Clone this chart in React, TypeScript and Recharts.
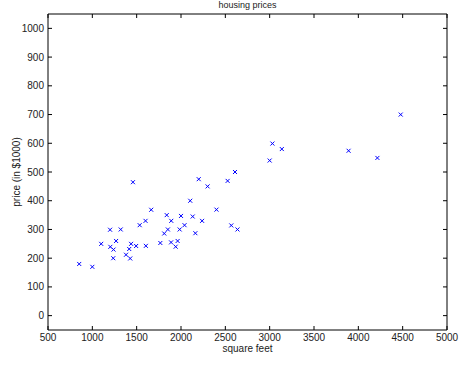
import React from 'react';
import { ScatterChart, Scatter, XAxis, YAxis, ReferenceArea } from 'recharts';

// house sizes (sq ft) and prices ($1000)
const sqft = [
  2104, 1600, 2400, 1416, 3000, 1985, 1534, 1427, 1380, 1494, 1940, 2000, 1890, 4478, 1268, 2300,
  1320, 1236, 2609, 3031, 1767, 1888, 1604, 1962, 3890, 1100, 1458, 2526, 2200, 2637, 1839, 1000,
  2040, 3137, 1811, 1437, 1239, 2132, 4215, 2162, 1664, 2238, 2567, 1200, 852, 1852, 1203,
];
const price = [
  399.9, 329.9, 369.0, 232.0, 539.9, 299.9, 314.9, 199.0, 212.0, 242.5, 240.0, 347.0, 330.0, 699.9, 259.9, 449.9,
  299.9, 199.9, 500.0, 599.0, 252.9, 255.0, 242.9, 259.9, 573.9, 249.9, 464.5, 469.0, 475.0, 299.9, 349.9, 169.9,
  314.9, 579.9, 285.9, 249.9, 229.9, 345.0, 549.0, 287.0, 368.5, 329.9, 314.0, 299.0, 179.9, 299.9, 239.5,
];
const xTicks = [500, 1000, 1500, 2000, 2500, 3000, 3500, 4000, 4500, 5000];
const yTicks = [0, 100, 200, 300, 400, 500, 600, 700, 800, 900, 1000];

const data = sqft.map((s, i) => ({ sqft: s, price: price[i] }));

const W = 468;
const H = 370;
const M = { top: 14, right: 21, bottom: 0, left: 0 };
const PLOT_TOP = 14;
const PLOT_BOTTOM = 330;
const PLOT_LEFT = 48;
const PLOT_RIGHT = 447;
const FONT = '"Liberation Sans", Arial, sans-serif';

const XTick = (props: any) => {
  const { x, payload } = props;
  return (
    <g>
      <line x1={x} x2={x} y1={PLOT_BOTTOM} y2={PLOT_BOTTOM - 4} stroke="#000" />
      <line x1={x} x2={x} y1={PLOT_TOP} y2={PLOT_TOP + 4} stroke="#000" />
      <text x={x} y={PLOT_BOTTOM + 11} textAnchor="middle" fontSize={10} fill="#222" fontFamily={FONT}>
        {payload.value}
      </text>
    </g>
  );
};

const YTick = (props: any) => {
  const { y, payload } = props;
  return (
    <g>
      <line x1={PLOT_LEFT} x2={PLOT_LEFT + 4} y1={y} y2={y} stroke="#000" />
      <line x1={PLOT_RIGHT} x2={PLOT_RIGHT - 4} y1={y} y2={y} stroke="#000" />
      <text x={PLOT_LEFT - 4} y={y + 3.5} textAnchor="end" fontSize={10} fill="#222" fontFamily={FONT}>
        {payload.value}
      </text>
    </g>
  );
};

const Cross = (props: any) => {
  const { cx, cy } = props;
  const r = 2;
  return (
    <g stroke="#0000ff" strokeWidth={1}>
      <line x1={cx - r} y1={cy - r} x2={cx + r} y2={cy + r} />
      <line x1={cx - r} y1={cy + r} x2={cx + r} y2={cy - r} />
    </g>
  );
};

export default function App() {
  return (
    <div style={{ position: 'absolute', left: 0, top: 0, width: W, height: H, background: '#fff' }}>
      <ScatterChart width={W} height={H} margin={M}>
        <XAxis
          dataKey="sqft"
          type="number"
          domain={[500, 5000]}
          ticks={xTicks}
          tick={<XTick />}
          tickLine={false}
          axisLine={false}
          height={40}
          interval={0}
          allowDataOverflow
        />
        <YAxis
          dataKey="price"
          type="number"
          domain={[-50, 1050]}
          ticks={yTicks}
          tick={<YTick />}
          tickLine={false}
          axisLine={false}
          width={48}
          interval={0}
          allowDataOverflow
        />
        <ReferenceArea x1={500} x2={5000} y1={-50} y2={1050} fill="none" stroke="#000" strokeWidth={1} ifOverflow="visible" />
        <Scatter data={data} shape={<Cross />} isAnimationActive={false} />
        <text x={(PLOT_LEFT + PLOT_RIGHT) / 2} y={8} textAnchor="middle" fontSize={9} fill="#222" fontFamily={FONT}>
          housing prices
        </text>
        <text x={(PLOT_LEFT + PLOT_RIGHT) / 2} y={352} textAnchor="middle" fontSize={10} fill="#222" fontFamily={FONT}>
          square feet
        </text>
        <text
          x={20}
          y={172}
          textAnchor="middle"
          fontSize={10}
          fill="#222"
          fontFamily={FONT}
          transform="rotate(-90 20 172)"
        >
          price (in $1000)
        </text>
      </ScatterChart>
    </div>
  );
}
